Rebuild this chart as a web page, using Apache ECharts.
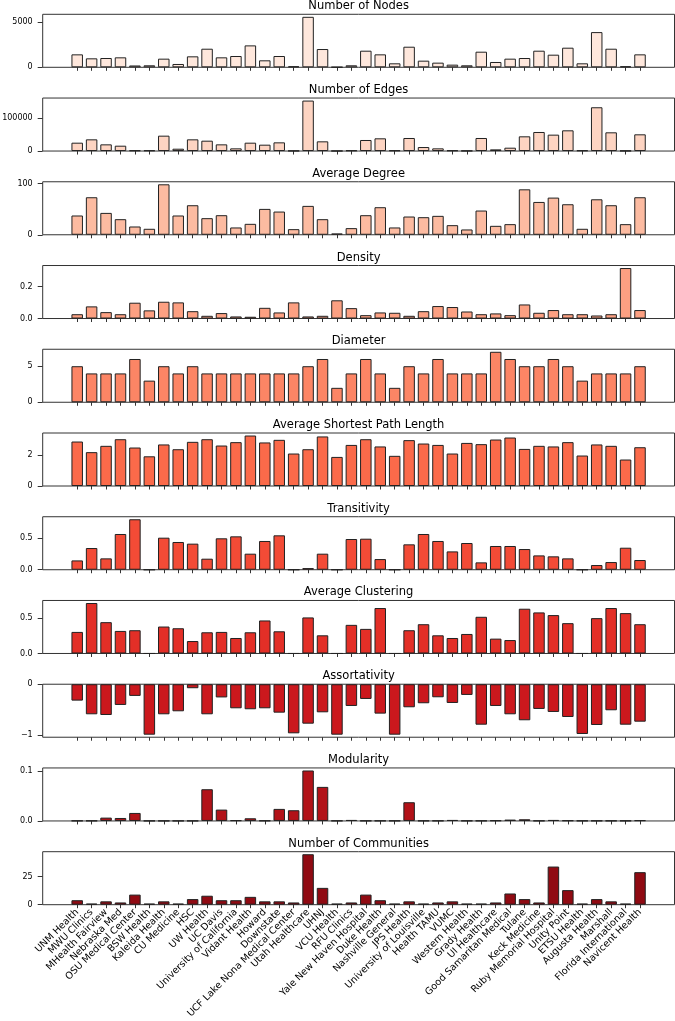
<!DOCTYPE html>
<html>
<head>
<meta charset="utf-8">
<script src="https://cdn.jsdelivr.net/npm/echarts@6/dist/echarts.min.js"></script>
<style>
  html, body { margin: 0; padding: 0; background: #fff; }
  #chart { width: 675px; height: 1021px; }
</style>
</head>
<body>
<div id="chart"></div>
<script>
const categories = [
  "UNM Health", "MWU Clinics", "MHealth Fairview", "Nebraska Med", "OSU Medical Center",
  "BSW Health", "Kaleida Health", "CU Medicine", "HSC", "UW Health", "UC Davis",
  "University of California", "Vidant Health", "Howard", "Downstate",
  "UCF Lake Nona Medical Center", "Utah Healthcare", "UHNJ", "VCU Health", "RFU Clinics",
  "Yale New Haven Hospital", "Duke Health", "Nashville General", "JPS Health",
  "University of Louisville", "Health TAMU", "VUMC", "Western Health", "Grady Health",
  "UI Healthcare", "Good Samaritan Medical", "Tulane", "Keck Medicine",
  "Ruby Memorial Hospital", "Unity Point", "ETSU Health", "Augusta Health", "Marshall",
  "Florida International", "Navicent Health"
];

const numNodes = [1424, 986, 1022, 1095, 200, 220, 949, 365, 1205, 2044, 1095, 1241, 2409, 767, 1241, 110, 5548, 2008, 30, 220,
  1825, 1424, 438, 2263, 730, 511, 292, 219, 1716, 584, 949, 1022, 1825, 1387, 2154, 438, 3869, 2044, 110, 1424];
const numEdges = [25500, 35700, 20400, 16300, 2000, 2000, 46900, 7100, 35700, 31600, 20400, 8200, 25500, 19400, 26500, 1000, 154000, 29600, 500, 2000,
  33700, 38800, 2000, 39800, 12200, 8200, 2000, 1000, 39800, 5100, 10200, 44900, 58100, 50000, 63200, 2000, 133600, 57100, 1000, 51000];
const avgDegree = [37.7, 73.4, 42.8, 30.5, 16.2, 11.7, 98.7, 37.7, 57.8, 32.5, 38.3, 14.3, 21.4, 50.6, 45.4, 11.0, 56.5, 30.5, 2.6, 13.0,
  38.3, 53.9, 14.3, 35.7, 34.4, 37.0, 18.8, 10.4, 47.4, 17.5, 20.8, 88.9, 64.2, 72.7, 59.7, 11.7, 69.4, 57.8, 20.8, 73.4];
const density = [0.027, 0.076, 0.040, 0.027, 0.099, 0.051, 0.105, 0.101, 0.046, 0.017, 0.034, 0.013, 0.011, 0.067, 0.038, 0.101, 0.013, 0.017, 0.114, 0.065,
  0.021, 0.038, 0.036, 0.017, 0.046, 0.078, 0.072, 0.044, 0.027, 0.032, 0.021, 0.088, 0.036, 0.053, 0.027, 0.027, 0.019, 0.027, 0.316, 0.053];
const diameter = [5, 4, 4, 4, 6, 3, 5, 4, 5, 4, 4, 4, 4, 4, 4, 4, 5, 6, 2, 4,
  6, 4, 2, 5, 4, 6, 4, 4, 4, 7, 6, 5, 5, 6, 5, 3, 4, 4, 4, 5];
const avgPathLength = [2.89, 2.20, 2.61, 3.04, 2.50, 1.93, 2.70, 2.39, 2.87, 3.04, 2.63, 2.85, 3.28, 2.83, 3.00, 2.11, 2.39, 3.22, 1.89, 2.67,
  3.04, 2.57, 1.96, 2.98, 2.76, 2.67, 2.11, 2.80, 2.72, 3.02, 3.15, 2.41, 2.61, 2.57, 2.85, 1.98, 2.70, 2.61, 1.72, 2.52];
const transitivity = [0.147, 0.342, 0.179, 0.563, 0.795, 0, 0.505, 0.437, 0.411, 0.174, 0.495, 0.526, 0.253, 0.453, 0.542, 0, 0.026, 0.253, 0, 0.484,
  0.489, 0.168, 0, 0.400, 0.563, 0.453, 0.289, 0.421, 0.116, 0.374, 0.374, 0.326, 0.226, 0.211, 0.179, 0, 0.074, 0.121, 0.347, 0.153];
const avgClustering = [0.305, 0.714, 0.443, 0.319, 0.329, 0, 0.381, 0.357, 0.176, 0.300, 0.305, 0.219, 0.300, 0.467, 0.314, 0, 0.510, 0.257, 0, 0.405,
  0.348, 0.643, 0, 0.329, 0.414, 0.257, 0.219, 0.276, 0.519, 0.210, 0.190, 0.633, 0.581, 0.543, 0.429, 0, 0.500, 0.643, 0.571, 0.414];
const assortativity = [-0.323, -0.592, -0.606, -0.408, -0.23, -0.994, -0.592, -0.533, -0.079, -0.592, -0.26, -0.474, -0.493, -0.474, -0.560, -0.967, -0.777, -0.553, -0.994, -0.428,
  -0.29, -0.579, -0.994, -0.454, -0.375, -0.257, -0.369, -0.211, -0.797, -0.428, -0.592, -0.710, -0.487, -0.546, -0.645, -0.980, -0.803, -0.513, -0.797, -0.738];
const modularity = [0.0005, 0.0005, 0.0067, 0.006, 0.0161, 0.0003, 0.0003, 0.0003, 0.0003, 0.0637, 0.0228, 0.0013, 0.0054, 0.0007, 0.0242, 0.0215, 0.1013, 0.0684, 0.0005, 0.002,
  0.0005, 0.0005, 0.0005, 0.0376, 0.0005, 0.0005, 0.002, 0.0005, 0.0005, 0.001, 0.0027, 0.0034, 0.0005, 0.002, 0.001, 0.0005, 0.0005, 0.0005, 0.0005, 0.0013];
const numCommunities = [4, 1, 3, 2, 9, 1, 3, 1, 5, 8, 4, 4, 7, 3, 3, 2, 45, 15, 1, 2,
  9, 4, 1, 3, 1, 2, 3, 1, 1, 2, 10, 5, 2, 34, 13, 1, 5, 3, 1, 29];

const titles = [
  "Number of Nodes", "Number of Edges", "Average Degree", "Density", "Diameter",
  "Average Shortest Path Length", "Transitivity", "Average Clustering", "Assortativity",
  "Modularity", "Number of Communities"
];
const yTicks = [[0, 5000], [0, 100000], [0, 100], [0, 0.2], [0, 5], [0, 2], [0, 0.5], [0, 0.5], [-1, 0], [0, 0.1], [0, 25]];
const yTickLabels = [["0", "5000"], ["0", "100000"], ["0", "100"], ["0.0", "0.2"], ["0", "5"], ["0", "2"],
  ["0.0", "0.5"], ["0.0", "0.5"], ["\u22121", "0"], ["0.0", "0.1"], ["0", "25"]];

const panels = [numNodes, numEdges, avgDegree, density, diameter, avgPathLength,
  transitivity, avgClustering, assortativity, modularity, numCommunities];

// Reds colormap sampled at (i + 1) / 12
const colors = ["#fee7dc", "#fdd4c2", "#fcbba1", "#fca082", "#fc8565", "#fb6a4a",
  "#f34b36", "#e32f27", "#cb181d", "#b21218", "#900a12"];

const FONT = "DejaVu Sans";
const gridLeft = 42.7;
const gridRight = 0.5;
const panelTop = 14.3;
const panelStep = 83.74;
const panelHeight = 53;
const centerX = (gridLeft + 675 - gridRight) / 2;

const n = categories.length;
const idx = categories.map((_, i) => i);
const xPad = 0.05 * (n - 1 + 0.8);
const xMin = -0.4 - xPad;
const xMax = n - 1 + 0.4 + xPad;

const grids = [], xAxes = [], yAxes = [], series = [], titleList = [];

panels.forEach((values, i) => {
  const top = panelTop + panelStep * i;
  const lo = Math.min(...values), hi = Math.max(...values);
  const yMin = lo < 0 ? lo * 1.05 : 0;
  const yMax = lo < 0 ? 0 : hi * 1.05;
  const last = i === panels.length - 1;

  grids.push({
    left: gridLeft, right: gridRight, top: top, height: panelHeight,
    show: true, borderColor: "#333", borderWidth: 1,
    outerBoundsMode: "none"
  });

  xAxes.push({
    type: "value", gridIndex: i, min: xMin, max: xMax, position: "bottom",
    axisLine: { show: false, onZero: false },
    axisTick: { show: true, length: 3.5, lineStyle: { color: "#333" }, customValues: idx },
    axisLabel: last ? {
      customValues: idx, rotate: 45, margin: 6,
      fontFamily: FONT, fontSize: 9.6, color: "#000",
      formatter: v => categories[Math.round(v)]
    } : { show: false },
    splitLine: { show: false }
  });

  yAxes.push({
    type: "value", gridIndex: i, min: yMin, max: yMax, position: "left",
    axisLine: { show: false, onZero: false },
    axisTick: { show: true, length: 5, lineStyle: { color: "#333" }, customValues: yTicks[i] },
    axisLabel: {
      customValues: yTicks[i], margin: 10,
      fontFamily: FONT, fontSize: 8, color: "#000",
      formatter: v => yTickLabels[i][yTicks[i].indexOf(v)]
    },
    splitLine: { show: false }
  });

  series.push({
    type: "bar", xAxisIndex: i, yAxisIndex: i,
    data: values.map((v, k) => [k, v]),
    barWidth: 11.5,
    silent: true,
    itemStyle: { color: colors[i], borderColor: "#222", borderWidth: 1 }
  });

  titleList.push({
    text: titles[i], left: centerX, top: top - 14, textAlign: "center", padding: 0,
    textStyle: { fontFamily: FONT, fontSize: 11.5, fontWeight: "normal", color: "#000" }
  });
});

const myChart = echarts.init(document.getElementById("chart"));
myChart.setOption({
  animation: false,
  title: titleList,
  grid: grids,
  xAxis: xAxes,
  yAxis: yAxes,
  series: series
});
</script>
</body>
</html>
